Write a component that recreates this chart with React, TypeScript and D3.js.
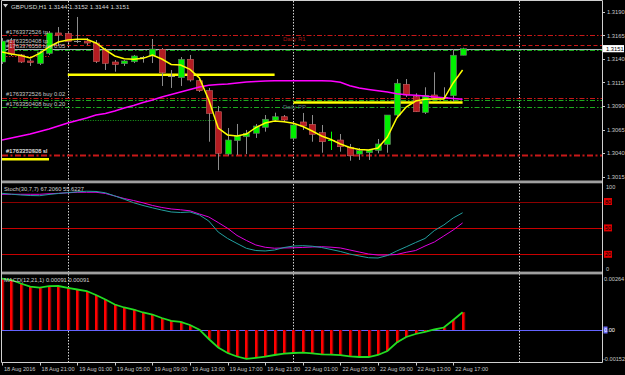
import React from "react";
import * as d3 from "d3";

// ---------- DATA ----------
const opens = [1.31368,1.31597,1.31443,1.31379,1.31352,1.31459,1.31677,1.31671,1.31602,1.31591,1.31570,1.31496,1.31368,1.31350,1.31371,1.31418,1.31432,1.31503,1.31225,1.31201,1.31397,1.31169,1.31063,1.30839,1.30389,1.30531,1.30573,1.30610,1.30673,1.30751,1.30786,1.30556,1.30730,1.30705,1.30616,1.30531,1.30538,1.30461,1.30389,1.30403,1.30427,1.30490,1.30804,1.31131,1.30999,1.30831,1.31017,1.30996,1.31010,1.31440];
const highs = [1.31623,1.31623,1.31453,1.31400,1.31485,1.31698,1.31740,1.31698,1.31847,1.31623,1.31602,1.31517,1.31389,1.31389,1.31443,1.31432,1.31613,1.31517,1.31283,1.31421,1.31443,1.31187,1.31092,1.30900,1.30666,1.30709,1.30645,1.30709,1.30804,1.30829,1.30804,1.30719,1.30826,1.30804,1.30698,1.30627,1.30602,1.30496,1.30453,1.30443,1.30549,1.30804,1.31187,1.31187,1.31035,1.31099,1.31259,1.31099,1.31506,1.31520];
const lows = [1.31347,1.31432,1.31357,1.31326,1.31336,1.31443,1.31538,1.31570,1.31570,1.31549,1.31357,1.31283,1.31265,1.31326,1.31357,1.31361,1.31357,1.31113,1.31092,1.31113,1.31159,1.31049,1.30520,1.30219,1.30373,1.30379,1.30389,1.30560,1.30627,1.30730,1.30730,1.30538,1.30645,1.30520,1.30403,1.30432,1.30414,1.30318,1.30326,1.30326,1.30397,1.30403,1.30786,1.30996,1.30836,1.30815,1.30974,1.30974,1.30946,1.31440];
const closes = [1.31591,1.31453,1.31368,1.31363,1.31474,1.31677,1.31655,1.31586,1.31591,1.31570,1.31373,1.31354,1.31342,1.31379,1.31432,1.31415,1.31506,1.31254,1.31214,1.31397,1.31177,1.31063,1.30822,1.30397,1.30538,1.30581,1.30610,1.30687,1.30759,1.30786,1.30751,1.30698,1.30687,1.30599,1.30520,1.30535,1.30467,1.30371,1.30425,1.30432,1.30496,1.30804,1.31142,1.31017,1.30839,1.31012,1.30985,1.30987,1.31440,1.31510];
const fastMA = [1.31474,1.31453,1.31437,1.31411,1.31459,1.31528,1.31581,1.31602,1.31610,1.31610,1.31570,1.31496,1.31432,1.31403,1.31397,1.31407,1.31443,1.31400,1.31342,1.31336,1.31290,1.31198,1.30964,1.30666,1.30592,1.30581,1.30602,1.30671,1.30719,1.30740,1.30733,1.30716,1.30682,1.30634,1.30581,1.30544,1.30496,1.30459,1.30437,1.30432,1.30453,1.30570,1.30772,1.30889,1.30953,1.30972,1.30974,1.30974,1.31145,1.31283];
const slowMA = [1.30538,1.30560,1.30581,1.30602,1.30629,1.30655,1.30687,1.30719,1.30746,1.30772,1.30804,1.30820,1.30847,1.30879,1.30905,1.30937,1.30964,1.30996,1.31022,1.31049,1.31076,1.31102,1.31120,1.31129,1.31134,1.31145,1.31155,1.31161,1.31166,1.31169,1.31169,1.31169,1.31169,1.31169,1.31169,1.31167,1.31152,1.31115,1.31092,1.31076,1.31062,1.31049,1.31031,1.31020,1.31015,1.31006,1.30996,1.30987,1.30980,1.30971];
const stochMain = [89.3,88.3,87.4,86.8,86.6,88,89.1,90.1,91,91.7,91.4,89.9,86.3,82.6,78.6,75.5,72.8,70.3,68.1,67.5,68.1,64.7,57.8,45.3,38,32.3,26.8,24.3,23.8,24.9,27.7,29.4,29.8,29.2,27.7,25.5,23.2,20.3,18.1,16.1,15.8,18.6,23.8,28.5,33.4,38,47,53.3,61.3,67.206];
const stochSignal = [88.2,88.2,88.2,88.2,88.2,88.8,89.3,89.9,90.5,90.5,90.5,89.1,86.3,83.4,81.1,78.5,75.5,73.2,71.5,70.6,69.4,65.8,62.4,56.1,49.5,41.4,35.7,30.6,28,26.9,27.2,27.4,27.8,28.3,28.6,28.1,27.2,24.9,22.6,20.3,19.2,19.2,19.8,22.3,24.3,29.4,34,40.8,47.6,55.6227];
const macdValues = [0.00264,0.002568,0.002388,0.002224,0.002173,0.00225,0.00226,0.002167,0.00208,0.002003,0.001798,0.001567,0.00131,0.001156,0.001053,0.000899,0.000796,0.000616,0.000473,0.000421,0.000257,0.000015,-0.000462,-0.000899,-0.001181,-0.001361,-0.00148,-0.001428,-0.001371,-0.001284,-0.001212,-0.001181,-0.001166,-0.001197,-0.001248,-0.001263,-0.001294,-0.001351,-0.001387,-0.001387,-0.001284,-0.001079,-0.000642,-0.00036,-0.000205,-0.000092,0.000026,0.000128,0.000514,0.00091];

const priceTicks = [1.319, 1.3165, 1.314, 1.3115, 1.309, 1.3065, 1.304, 1.3015];
const timeLabels = ["18 Aug 2016","18 Aug 21:00","19 Aug 01:00","19 Aug 05:00","19 Aug 09:00","19 Aug 13:00","19 Aug 17:00","19 Aug 21:00","22 Aug 01:00","22 Aug 05:00","22 Aug 09:00","22 Aug 13:00","22 Aug 17:00"];
const timeLabelBars = [0,4,8,12,16,20,24,28,32,36,40,44,48];
const daySeparatorBars = [7,31,55];
const stochLevels = [80,50,20];

const bidPrice = 1.3151;
const redDashDotLevels = [1.31655, 1.30990];
const redDashedLevels = [1.31549];
const greenDashDotLevels = [1.31496, 1.30962, 1.30886];
const stopLevel = 1.30384;
const greenDotted = { price: 1.30748, from: 7, to: 23 };
const redDotted = { price: 1.31432, from: 0, to: 5 };
const yellowLevels = [1.31233, 1.30937, 1.30333];
const yellowRanges = [[7, 29], [31, 49], [0, 5]];
const orderLabelTexts = ["#1763372526 tp","#1763350408 tp","#1763376558 buy 0.05","#1763372526 buy 0.02","#1763350408 buy 0.20","#1763372526 sl","#1763350408 sl"];
const orderLabelPrices = [1.31655,1.31549,1.31496,1.30990,1.30886,1.30384,1.30384];
const pivotTexts = ["Daily R1", "Daily PP"];
const pivotPrices = [1.31655, 1.30962];

const title = "GBPUSD,H1  1.3144 1.3152 1.3144 1.3151";
const stochTitle = "Stoch(30,7,7) 67.2060 55.6227";
const macdTitle = "MACD(12,21,1) 0.00091 0.00091";

// ---------- CHART ----------
const FONT = "'Liberation Sans', Arial, sans-serif";

export default function App() {
  const x = d3.scaleLinear().domain([0, 49]).range([2, 462.6]);
  const y = d3.scaleLinear().domain([1.3015, 1.319]).range([176.5, 12]);
  const yS = d3.scaleLinear().domain([0, 100]).range([271.9, 183.9]);
  const yM = d3.scaleLinear().domain([-0.00152, 0.00264]).range([359.6, 278.6]);
  const axisX = 602;
  const px = (v: number) => Math.round(v) + 0.5;

  const lineMain = d3.line<number>().x((_, i) => x(i)).y((d) => y(d));
  const lineS = d3.line<number>().x((_, i) => x(i)).y((d) => yS(d));
  const lineM = d3.line<number>().x((_, i) => x(i)).y((d) => yM(d));

  const hline = (p: number, key: string, stroke: string, dash: string, w = 1, x1 = 2, x2 = axisX) => (
    <line key={key} x1={x1} x2={x2} y1={px(y(p))} y2={px(y(p))} stroke={stroke} strokeWidth={w} strokeDasharray={dash} />
  );

  return (
    <svg width={625} height={375} style={{ position: "fixed", left: 0, top: 0, background: "#000" }} fontFamily={FONT}>
      <defs>
        <clipPath id="mainClip"><rect x={2} y={1} width={axisX - 2} height={179.5} /></clipPath>
      </defs>
      <rect x={0} y={0} width={625} height={375} fill="#000" />

      {/* day separators */}
      {daySeparatorBars.map((b) => (
        <line key={"sep" + b} x1={px(x(b))} x2={px(x(b))} y1={1} y2={362} stroke="#d0d0d0" strokeWidth={1} strokeDasharray="1.5,1.5" />
      ))}

      {/* main panel levels */}
      <g clipPath="url(#mainClip)">
        {redDashDotLevels.map((p, i) => hline(p, "rdd" + i, "#c81818", "5,2,1.5,2"))}
        {redDashedLevels.map((p, i) => hline(p, "rd" + i, "#c81818", "4,2.5"))}
        {hline(bidPrice, "bid", "#aab4be", "")}
        {greenDashDotLevels.map((p, i) => hline(p, "gdd" + i, "#1ea81e", "5,2,1.5,2"))}
        {hline(stopLevel, "stop", "#c81818", "6,2.5,2,2.5", 2)}
        {hline(greenDotted.price, "gdot", "#1ea81e", "1,1.5", 1, x(greenDotted.from), x(greenDotted.to))}
        {hline(redDotted.price, "rdot", "#c81818", "1.5,1.5", 1, 0, x(redDotted.to))}
        {yellowLevels.map((p, i) => (
          <line key={"yl" + i} x1={x(yellowRanges[i][0])} x2={x(yellowRanges[i][1])} y1={y(p)} y2={y(p)} stroke="#ffff00" strokeWidth={2.5} />
        ))}

        {/* candles */}
        {opens.map((o, i) => {
          const c = closes[i];
          const xc = Math.round(x(i));
          const yo = y(o), yc = y(c);
          const top = Math.min(yo, yc);
          const h = Math.abs(yo - yc);
          const bull = c >= o;
          const doji = h < 1.2;
          const wickCol = doji && bull ? "#00ff00" : "#8c8c8c";
          return (
            <g key={"c" + i}>
              <line x1={xc + 0.5} x2={xc + 0.5} y1={y(highs[i])} y2={y(lows[i])} stroke={wickCol} strokeWidth={1} />
              {doji ? (
                <line x1={xc - 3} x2={xc + 4} y1={px((yo + yc) / 2)} y2={px((yo + yc) / 2)} stroke={wickCol} strokeWidth={1} />
              ) : (
                <rect x={xc - 2.5} y={top} width={6} height={h} fill={bull ? "#00f000" : "#b41c22"} stroke={bull ? "#707070" : "#c86464"} strokeWidth={0.6} />
              )}
            </g>
          );
        })}

        <path d={lineMain(slowMA) || ""} fill="none" stroke="#ff00ff" strokeWidth={1.5} />
        <path d={lineMain(fastMA) || ""} fill="none" stroke="#ffff00" strokeWidth={1.5} />

        {orderLabelTexts.map((t, i) => (
          <text key={"ol" + i} x={6} y={y(orderLabelPrices[i]) - 1.5} fontSize={5.8} fill="#c8c8c8">{t}</text>
        ))}
        <text x={x(30) - 1} y={y(pivotPrices[0]) + 5.5} fontSize={6} fill="#a01414">{pivotTexts[0]}</text>
        <text x={x(30) - 1} y={y(pivotPrices[1]) + 8.5} fontSize={6} fill="#56687a">{pivotTexts[1]}</text>
      </g>

      {/* title */}
      <path d="M3,4 L8,4 L5.5,7.5 Z" fill="#d0d0d0" />
      <text x={11} y={8.5} fontSize={6.2} fill="#d8d8d8">{title}</text>

      {/* price axis */}
      {priceTicks.map((p) => (
        <g key={"pt" + p}>
          <line x1={axisX} x2={axisX + 3} y1={px(y(p))} y2={px(y(p))} stroke="#c8c8c8" />
          <text x={axisX + 5} y={y(p) + 2} fontSize={5.8} fill="#c8c8c8">{p.toFixed(4)}</text>
        </g>
      ))}
      <rect x={axisX + 1} y={y(bidPrice) - 3.6} width={21} height={7.2} fill="#ffffff" />
      <text x={axisX + 4} y={y(bidPrice) + 2} fontSize={5.8} fill="#000">{bidPrice.toFixed(4)}</text>

      {/* stochastic panel */}
      {stochLevels.map((l, i) => (
        <g key={"sl" + l}>
          <line x1={2} x2={axisX} y1={px(yS(l))} y2={px(yS(l))} stroke={i === 0 ? "#8c0000" : "#c80000"} strokeWidth={1} />
          <rect x={axisX + 2} y={yS(l) - 3.5} width={8} height={7} fill="#e00000" />
          <text x={axisX + 3} y={yS(l) + 2} fontSize={5.6} fill="#000">{l}</text>
        </g>
      ))}
      <text x={axisX + 4} y={yS(100) + 5} fontSize={5.6} fill="#c8c8c8">100</text>
      <text x={axisX + 4} y={yS(0) - 1} fontSize={5.6} fill="#c8c8c8">0</text>
      <path d={lineS(stochSignal) || ""} fill="none" stroke="#e000e0" strokeWidth={1} />
      <path d={lineS(stochMain) || ""} fill="none" stroke="#22a0a0" strokeWidth={1} />
      <text x={4} y={190.5} fontSize={5.8} fill="#d0d0d0">{stochTitle}</text>

      {/* MACD panel */}
      <line x1={2} x2={axisX} y1={px(yM(0))} y2={px(yM(0))} stroke="#6464ff" strokeWidth={1} />
      {macdValues.map((v, i) => {
        const xc = Math.round(x(i));
        const y0 = yM(0), y1 = yM(v);
        return (
          <g key={"m" + i}>
            <rect x={xc - 1} y={Math.min(y0, y1)} width={3} height={Math.abs(y1 - y0)} fill="#ff0000" />
            <rect x={xc + 1.3} y={Math.min(y0, y1)} width={1} height={Math.abs(y1 - y0)} fill="#7a0000" />
          </g>
        );
      })}
      <path d={lineM(macdValues) || ""} fill="none" stroke="#22dd22" strokeWidth={1.8} />
      <text x={4} y={282} fontSize={5.8} fill="#d0d0d0">{macdTitle}</text>
      <text x={axisX + 2} y={yM(0.00264) + 2} fontSize={5.6} fill="#c8c8c8">0.00264</text>
      <rect x={axisX + 1.5} y={yM(0) - 3.5} width={4} height={7} fill="#7070ff" />
      <text x={axisX + 2} y={yM(0) + 2} fontSize={5.6} fill="#ffffff">0.00</text>
      <text x={axisX + 1} y={yM(-0.00152) + 1} fontSize={5.6} fill="#c8c8c8">-0.00152</text>

      {/* panel separators & frame */}
      <rect x={1} y={180.5} width={axisX - 1} height={2.8} fill="#a0a0a0" />
      <rect x={1} y={271.6} width={axisX - 1} height={2.8} fill="#a0a0a0" />
      <line x1={1.5} x2={1.5} y1={0.5} y2={362.5} stroke="#d0d0d0" />
      <line x1={1.5} x2={axisX + 0.5} y1={0.5} y2={0.5} stroke="#d0d0d0" />
      <line x1={axisX + 0.5} x2={axisX + 0.5} y1={0.5} y2={362.5} stroke="#d0d0d0" />
      <line x1={1.5} x2={axisX + 0.5} y1={362.5} y2={362.5} stroke="#d0d0d0" />

      {/* time axis */}
      {timeLabelBars.map((b, i) => (
        <g key={"tl" + b}>
          <line x1={px(x(b))} x2={px(x(b))} y1={362.5} y2={365.5} stroke="#c8c8c8" />
          <text x={x(b) + 2} y={370.5} fontSize={5.6} fill="#c8c8c8">{timeLabels[i]}</text>
        </g>
      ))}
    </svg>
  );
}
